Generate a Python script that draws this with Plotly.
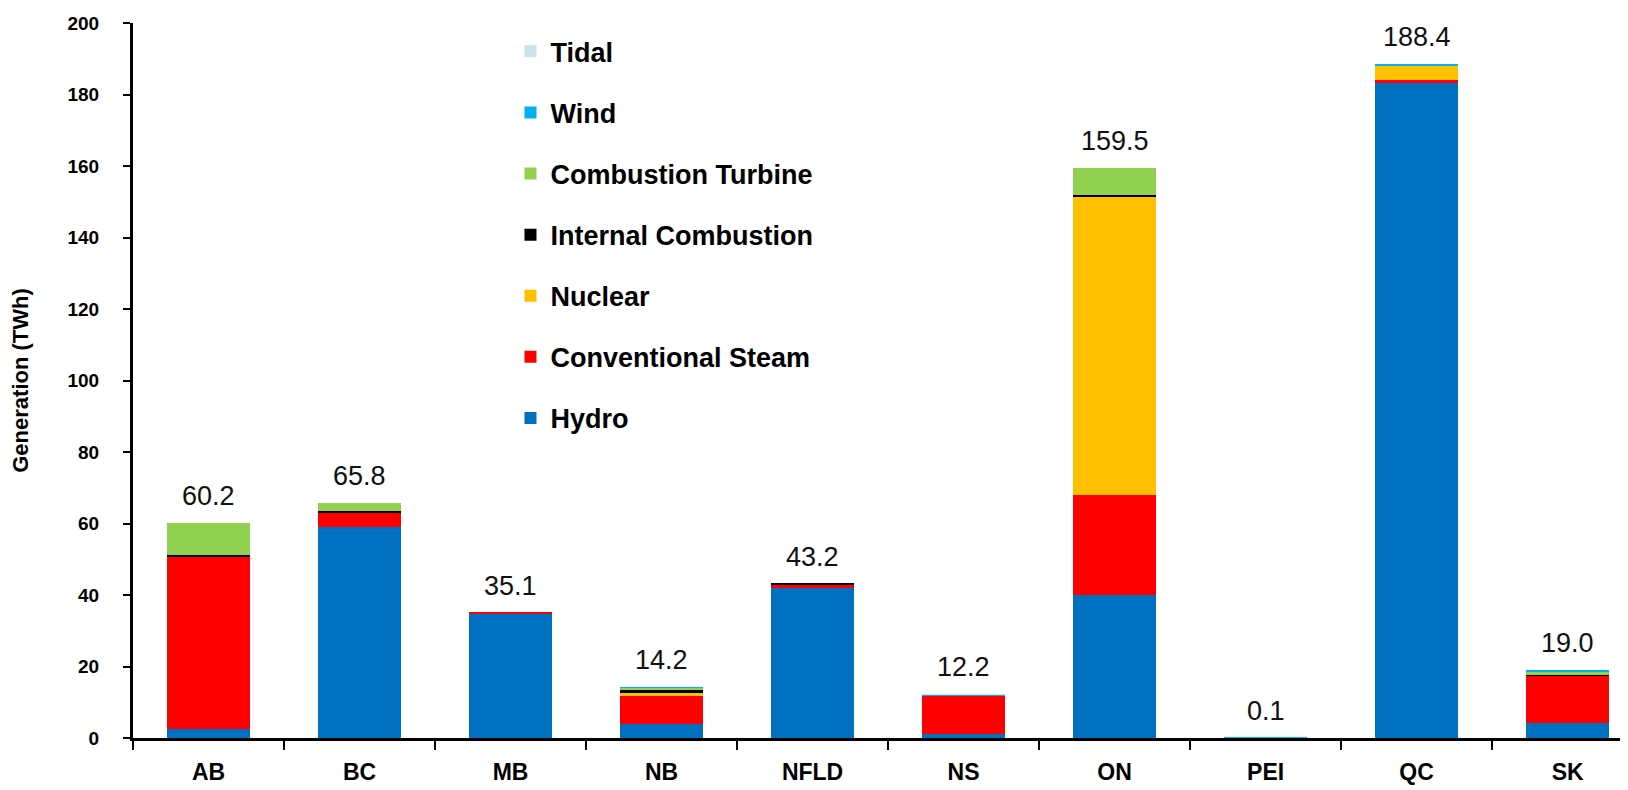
import plotly.graph_objects as go

provinces = ["AB", "BC", "MB", "NB", "NFLD", "NS", "ON", "PEI", "QC", "SK"]
totals = [60.2, 65.8, 35.1, 14.2, 43.2, 12.2, 159.5, 0.1, 188.4, 19.0]

hydro = [2.5, 59.1, 34.8, 3.8, 42.0, 1.0, 40.0, 0.0, 183.1, 4.3]
steam = [48.3, 4.0, 0.3, 7.9, 1.0, 10.8, 28.0, 0.0, 1.0, 13.1]
nuclear = [0.0, 0.0, 0.0, 0.8, 0.0, 0.0, 83.5, 0.0, 4.0, 0.0]
internal = [0.4, 0.5, 0.0, 0.9, 0.2, 0.0, 0.3, 0.0, 0.0, 0.2]
turbine = [9.0, 2.2, 0.0, 0.6, 0.0, 0.1, 7.7, 0.0, 0.1, 0.8]
wind = [0.0, 0.0, 0.0, 0.2, 0.0, 0.3, 0.0, 0.1, 0.2, 0.6]
tidal = [0.0, 0.0, 0.0, 0.0, 0.0, 0.03, 0.0, 0.0, 0.0, 0.0]

series = [
    ("Hydro", hydro, "#0070C0"),
    ("Conventional Steam", steam, "#FF0000"),
    ("Nuclear", nuclear, "#FFC000"),
    ("Internal Combustion", internal, "#000000"),
    ("Combustion Turbine", turbine, "#92D050"),
    ("Wind", wind, "#00B0F0"),
    ("Tidal", tidal, "#C9E3E8"),
]

FONT = "Liberation Sans, Arial, sans-serif"

fig = go.Figure()
n = len(series)
for i, (name, vals, color) in enumerate(series):
    fig.add_trace(go.Bar(
        x=provinces, y=vals, name=name, legendgroup=name,
        legendrank=1000 + (n - i),
        marker=dict(color=color, line=dict(width=0)),
        width=0.55,
    ))

for p, t in zip(provinces, totals):
    fig.add_annotation(
        x=p, y=t, text=f"{t:.1f}", showarrow=False,
        yanchor="middle", yshift=27,
        font=dict(family=FONT, size=27, color="#111111"),
    )

fig.update_layout(
    barmode="stack",
    width=1628, height=790,
    margin=dict(l=125, r=8, t=15, b=60),
    paper_bgcolor="white", plot_bgcolor="white",
    font=dict(family=FONT, color="black"),
    legend=dict(
        x=0.2525, y=0.994, xanchor="left", yanchor="top",
        traceorder="grouped", tracegroupgap=23,
        font=dict(family=FONT, size=27, color="black", weight="bold"),
        bgcolor="rgba(0,0,0,0)",
    ),
    xaxis=dict(
        range=[-0.5, 9.4],
        showline=True, linecolor="black", linewidth=3,
        ticks="outside", tickson="boundaries", ticklen=9, tickwidth=2, tickcolor="black",
        tickfont=dict(family=FONT, size=23, color="black", weight="bold"),
        ticklabelstandoff=11,
        showgrid=False, zeroline=False, automargin=False,
    ),
    yaxis=dict(
        range=[0, 200], dtick=20,
        showline=True, linecolor="black", linewidth=3,
        ticks="outside", ticklen=7, tickwidth=2, tickcolor="black",
        tickfont=dict(family=FONT, size=19, color="black", weight="bold"),
        ticklabelstandoff=20,
        showgrid=False, zeroline=False, automargin=False,
        title=dict(text="Generation (TWh)", standoff=33,
                   font=dict(family=FONT, size=22, color="black", weight="bold")),
    ),
)

fig.write_html("out.html")
